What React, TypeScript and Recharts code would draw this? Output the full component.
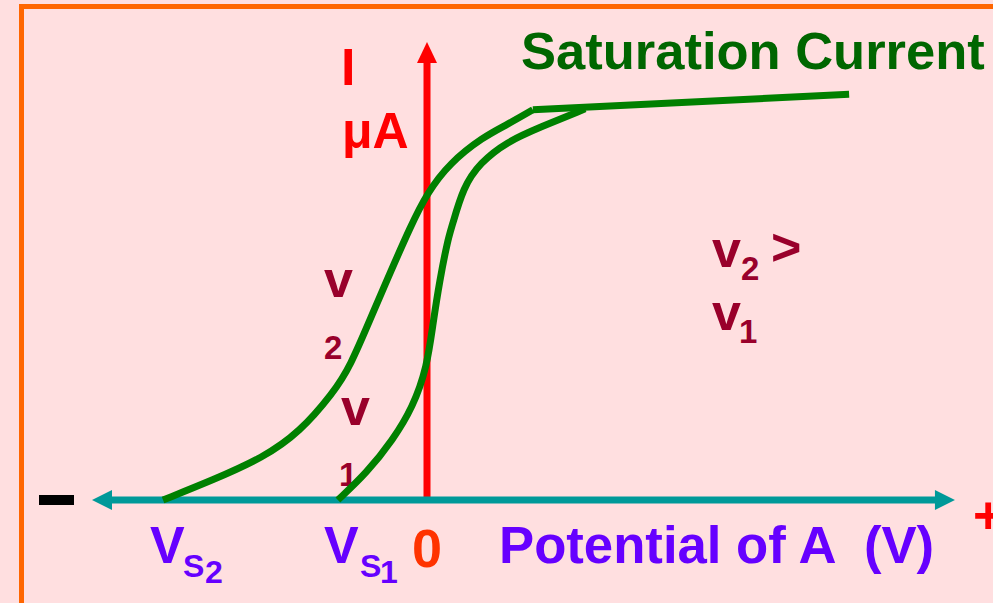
import { LineChart, Line, XAxis, YAxis, ReferenceLine, ReferenceDot } from 'recharts';

// potential of A (V) vs photo current (µA), two retarding curves v2 > v1
const V2_X = [-3.94, -3.19, -2.45, -1.9, -1.4, -1.15, -0.81, -0.55, -0.25, 0, 0.34, 0.84, 1.19, 1.58];
const V2_I = [0, 0.44, 0.92, 1.48, 2.34, 2.9, 4.08, 4.96, 5.96, 6.7, 7.36, 7.93, 8.19, 8.52];

const V1_X = [-1.33, -0.9, -0.51, -0.21, 0, 0.09, 0.19, 0.31, 0.37, 0.54, 0.79, 1.19, 1.69, 2.36];
const V1_I = [0, 0.59, 1.31, 2.03, 2.9, 3.86, 4.8, 5.68, 5.96, 6.83, 7.36, 7.82, 8.14, 8.54];

const SAT_X = [1.58, 6.3];
const SAT_I = [8.52, 8.86];

const X_DOMAIN: [number, number] = [-5, 8];
const I_DOMAIN: [number, number] = [0, 10];
const AXIS_END_X = 7.88;

const zip = (xs: number[], ys: number[]) => xs.map((x, i) => ({ x, i: ys[i] }));
const v2 = zip(V2_X, V2_I);
const v1 = zip(V1_X, V1_I);
const sat = zip(SAT_X, SAT_I);

const FONT = '"Liberation Sans", Arial, sans-serif';
const WINE = '#99002B';
const PURPLE = '#6600FF';
const GREEN = '#008000';

const leftHead = (p: any) => (
  <path d={`M${p.cx},${p.cy} L${p.cx + 20},${p.cy - 10} L${p.cx + 20},${p.cy + 10} Z`} fill="#009999" />
);
const rightHead = (p: any) => (
  <path d={`M${p.cx},${p.cy} L${p.cx - 20},${p.cy - 10} L${p.cx - 20},${p.cy + 10} Z`} fill="#009999" />
);
const topHead = (p: any) => (
  <path d={`M${p.cx},${p.cy} L${p.cx - 10},${p.cy + 21} L${p.cx + 10},${p.cy + 21} Z`} fill="#FF0000" />
);

function Labels() {
  return (
    <svg width={993} height={603} style={{ position: 'absolute', left: 0, top: 0 }}>
      <rect x={21.5} y={6.5} width={1000} height={1000} fill="none" stroke="#FF6600" strokeWidth={5} />
      <g fontFamily={FONT} fontWeight="bold">
        <text x={521} y={69} fontSize={52.5} fill="#006600">Saturation Current</text>
        <text x={341} y={85} fontSize={52} fill="#FF0000">I</text>
        <text x={342} y={148} fontSize={50} fill="#FF0000">μA</text>

        <text x={324} y={297} fontSize={52} fill={WINE}>v</text>
        <text x={324} y={359} fontSize={33} fill={WINE}>2</text>
        <text x={341} y={425} fontSize={52} fill={WINE}>v</text>
        <text x={339} y={486} fontSize={33} fill={WINE}>1</text>

        <text x={712} y={267} fontSize={52} fill={WINE}>v</text>
        <text x={741} y={280} fontSize={33} fill={WINE}>2</text>
        <text x={771} y={265} fontSize={52} fill={WINE}>&gt;</text>
        <text x={712} y={330} fontSize={52} fill={WINE}>v</text>
        <text x={739} y={343} fontSize={33} fill={WINE}>1</text>

        <text x={150} y={563} fontSize={52} fill={PURPLE}>V</text>
        <text x={183} y={577} fontSize={32} fill={PURPLE}>S</text>
        <text x={205} y={583} fontSize={32} fill={PURPLE}>2</text>
        <text x={324} y={563} fontSize={52} fill={PURPLE}>V</text>
        <text x={360} y={577} fontSize={32} fill={PURPLE}>S</text>
        <text x={380} y={583} fontSize={32} fill={PURPLE}>1</text>
        <text x={412} y={567} fontSize={54} fill="#FF3300">0</text>
        <text x={499} y={563} fontSize={52.7} fill={PURPLE} style={{ whiteSpace: 'pre' }}>Potential of A  (V)</text>

        <text x={973} y={533} fontSize={52} fill="#FF0000">+</text>
      </g>
      <rect x={39} y={495} width={35} height={10} fill="#000000" />
    </svg>
  );
}

export default function App() {
  return (
    <div style={{ position: 'absolute', left: 0, top: 0, width: 993, height: 603, background: '#FFDFE0', overflow: 'hidden' }}>
      <Labels />
      <div style={{ position: 'absolute', left: 0, top: 0 }}>
        <LineChart width={993} height={603} margin={{ top: 42, right: 30, bottom: 103, left: 92 }}>
          <XAxis type="number" dataKey="x" domain={X_DOMAIN} hide />
          <YAxis type="number" dataKey="i" domain={I_DOMAIN} hide />
          <ReferenceLine segment={[{ x: 0, y: 0 }, { x: 0, y: 9.6 }]} stroke="#FF0000" strokeWidth={7} ifOverflow="visible" />
          <ReferenceLine segment={[{ x: -4.75, y: 0 }, { x: 7.6, y: 0 }]} stroke="#009999" strokeWidth={7} ifOverflow="visible" />
          <ReferenceDot x={X_DOMAIN[0]} y={0} r={0} ifOverflow="visible" shape={leftHead} />
          <ReferenceDot x={AXIS_END_X} y={0} r={0} ifOverflow="visible" shape={rightHead} />
          <ReferenceDot x={0} y={I_DOMAIN[1]} r={0} ifOverflow="visible" shape={topHead} />
          <Line data={v2} dataKey="i" type="basis" stroke={GREEN} strokeWidth={7} dot={false} activeDot={false} isAnimationActive={false} />
          <Line data={v1} dataKey="i" type="basis" stroke={GREEN} strokeWidth={7} dot={false} activeDot={false} isAnimationActive={false} />
          <Line data={sat} dataKey="i" type="linear" stroke={GREEN} strokeWidth={7} dot={false} activeDot={false} isAnimationActive={false} />
        </LineChart>
      </div>
    </div>
  );
}
